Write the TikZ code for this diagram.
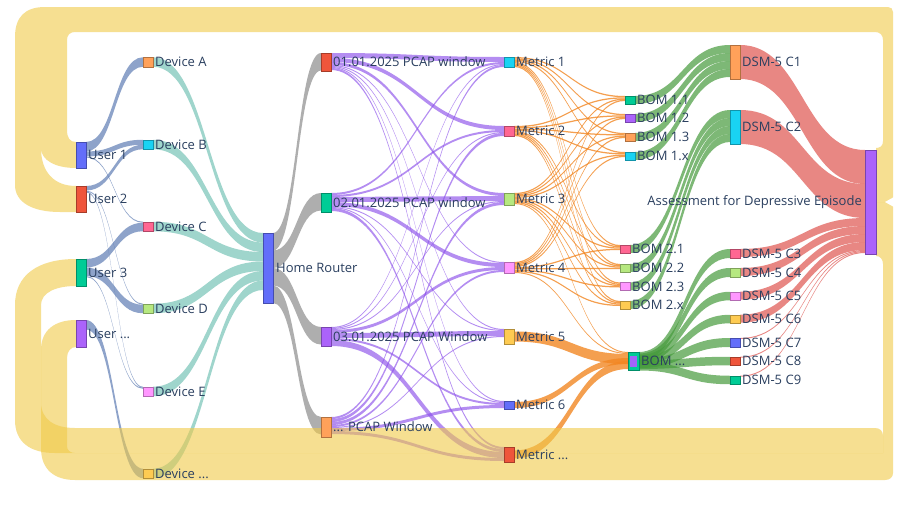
\documentclass[tikz,border=0pt]{standalone}
\usepackage{fontspec}
\setmainfont{Open Sans}
\usepackage{xcolor}
\usetikzlibrary{positioning,calc}

\definecolor{pa}{HTML}{636EFA}
\definecolor{pb}{HTML}{EF553B}
\definecolor{pc}{HTML}{00CC96}
\definecolor{pd}{HTML}{AB63FA}
\definecolor{pe}{HTML}{FFA15A}
\definecolor{pf}{HTML}{19D3F3}
\definecolor{pg}{HTML}{FF6692}
\definecolor{ph}{HTML}{B6E880}
\definecolor{pi}{HTML}{FF97FF}
\definecolor{pj}{HTML}{FECB52}
\definecolor{txt}{HTML}{2A3F5F}
\definecolor{ulk}{RGB}{95,125,180}
\definecolor{dlk}{RGB}{95,185,170}
\definecolor{rlk}{RGB}{120,120,120}
\definecolor{wlk}{RGB}{140,80,235}
\definecolor{mlk}{RGB}{242,135,35}
\definecolor{blk}{RGB}{70,155,60}
\definecolor{clk}{RGB}{225,95,90}
\definecolor{yel}{RGB}{240,202,73}

\pgfdeclarelayer{bg}
\pgfsetlayers{bg,main}

\tikzset{
  nd/.style={draw=#1!70!black, fill=#1, line width=0.4pt, minimum width=10pt, inner sep=0pt, outer sep=0pt},
  lbl/.style={font=\fontsize{13}{15}\selectfont, text=txt, inner sep=0pt},
  ulink/.style={fill=ulk, fill opacity=.7},
  dlink/.style={fill=dlk, fill opacity=.6},
  rlink/.style={fill=rlk, fill opacity=.6},
  wlink/.style={fill=wlk, fill opacity=.65},
  mlink/.style={fill=mlk, fill opacity=.8},
  blink/.style={fill=blk, fill opacity=.7},
  clink/.style={fill=clk, fill opacity=.75},
  loop/.style={fill=yel, fill opacity=.6}
}

% band from src (offset below its top) to tgt (offset below its top)
\newcommand{\band}[6]{%
  \fill[#1] let \p1=(#2.north east), \p2=(#4.north west), \n1={(\x2-\x1)/2} in
    (\x1,{\y1-(#3)*1pt}) .. controls +(\n1,0pt) and +(-\n1,0pt) .. (\x2,{\y2-(#5)*1pt})
    -- (\x2,{\y2-(#5+#6)*1pt}) .. controls +(-\n1,0pt) and +(\n1,0pt) .. (\x1,{\y1-(#3+#6)*1pt}) -- cycle;
}
% stacked band
\newcommand{\flow}[4]{%
  \ifcsname fs@#2\endcsname\else\expandafter\gdef\csname fs@#2\endcsname{0}\fi
  \ifcsname ft@#3\endcsname\else\expandafter\gdef\csname ft@#3\endcsname{0}\fi
  \edef\flowa{\csname fs@#2\endcsname}%
  \edef\flowb{\csname ft@#3\endcsname}%
  \band{#1}{#2}{\flowa}{#3}{\flowb}{#4}%
  \pgfmathsetmacro\flownew{\flowa+#4}\expandafter\xdef\csname fs@#2\endcsname{\flownew}%
  \pgfmathsetmacro\flownew{\flowb+#4}\expandafter\xdef\csname ft@#3\endcsname{\flownew}%
}

\begin{document}
\begin{tikzpicture}[x=1pt,y=-1pt]
\useasboundingbox (0,0) rectangle (900,504);

\node[nd=pa, minimum height=26pt] (u1) at (81,155) {};
\node[nd=pb, minimum height=26pt] (u2) at (81,199) {};
\node[nd=pc, minimum height=27pt] (u3) at (81,272.5) {};
\node[nd=pd, minimum height=27pt] (u4) at (81,333.5) {};
\node[lbl, right=2pt of u1] (u1l) {User 1};
\node[lbl, right=2pt of u2] (u2l) {User 2};
\node[lbl, right=2pt of u3] (u3l) {User 3};
\node[lbl, right=2pt of u4] (u4l) {User ...};

\node[nd=pe, minimum height=9.5pt] (dA) at (148,62) {};
\node[nd=pf, minimum height=9.5pt] (dB) at (148,144.5) {};
\node[nd=pg, minimum height=9.5pt] (dC) at (148,226.5) {};
\node[nd=ph, minimum height=9.5pt] (dD) at (148,308.5) {};
\node[nd=pi, minimum height=9.5pt] (dE) at (148,391.5) {};
\node[nd=pj, minimum height=9.5pt] (dX) at (148,473.5) {};
\node[lbl, right=2pt of dA] (dAl) {Device A};
\node[lbl, right=2pt of dB] (dBl) {Device B};
\node[lbl, right=2pt of dC] (dCl) {Device C};
\node[lbl, right=2pt of dD] (dDl) {Device D};
\node[lbl, right=2pt of dE] (dEl) {Device E};
\node[lbl, right=2pt of dX] (dXl) {Device ...};

\node[nd=pa, minimum height=70pt] (hr) at (268,268) {};
\node[lbl, right=3pt of hr] (hrl) {Home Router};

\node[nd=pb, minimum height=18pt] (w1) at (326,62) {};
\node[nd=pc, minimum height=19pt] (w2) at (326,202.5) {};
\node[nd=pd, minimum height=19pt] (w3) at (326,336.5) {};
\node[nd=pe, minimum height=20pt] (w4) at (326,427) {};
\node[lbl, right=2pt of w1] (w1l) {01.01.2025 PCAP window};
\node[lbl, right=2pt of w2] (w2l) {02.01.2025 PCAP window};
\node[lbl, right=2pt of w3] (w3l) {03.01.2025 PCAP Window};
\node[lbl, right=2pt of w4] (w4l) {... PCAP Window};

\node[nd=pf, minimum height=10pt] (m1) at (509,62) {};
\node[nd=pg, minimum height=10pt] (m2) at (509,131) {};
\node[nd=ph, minimum height=12pt] (m3) at (509,199) {};
\node[nd=pi, minimum height=11pt] (m4) at (509,267.5) {};
\node[nd=pj, minimum height=15pt] (m5) at (509,336.5) {};
\node[nd=pa, minimum height=8pt] (m6) at (509,405) {};
\node[nd=pb, minimum height=15pt] (m7) at (509,454.5) {};
\node[lbl, right=2pt of m1] (m1l) {Metric 1};
\node[lbl, right=2pt of m2] (m2l) {Metric 2};
\node[lbl, right=2pt of m3] (m3l) {Metric 3};
\node[lbl, right=2pt of m4] (m4l) {Metric 4};
\node[lbl, right=2pt of m5] (m5l) {Metric 5};
\node[lbl, right=2pt of m6] (m6l) {Metric 6};
\node[lbl, right=2pt of m7] (m7l) {Metric ...};

\node[nd=pc, minimum height=8pt] (b11) at (630,100) {};
\node[nd=pd, minimum height=8pt] (b12) at (630,118) {};
\node[nd=pe, minimum height=8pt] (b13) at (630,137) {};
\node[nd=pf, minimum height=8pt] (b1x) at (630,156) {};
\node[nd=pg, minimum height=8pt] (b21) at (625,249) {};
\node[nd=ph, minimum height=8pt] (b22) at (625,268) {};
\node[nd=pi, minimum height=8pt] (b23) at (625,286.5) {};
\node[nd=pj, minimum height=8pt] (b2x) at (625,305) {};
\node[nd=pc, minimum height=18pt, minimum width=11pt] (bX) at (633.5,361) {};
\node[fill=pd!85!pa, inner sep=0pt, minimum width=7pt, minimum height=11pt] (bXin) at (bX) {};
\node[lbl, right=2pt of b11] (b11l) {BOM 1.1};
\node[lbl, right=2pt of b12] (b12l) {BOM 1.2};
\node[lbl, right=2pt of b13] (b13l) {BOM 1.3};
\node[lbl, right=2pt of b1x] (b1xl) {BOM 1.x};
\node[lbl, right=2pt of b21] (b21l) {BOM 2.1};
\node[lbl, right=2pt of b22] (b22l) {BOM 2.2};
\node[lbl, right=2pt of b23] (b23l) {BOM 2.3};
\node[lbl, right=2pt of b2x] (b2xl) {BOM 2.x};
\node[lbl, right=2pt of bX] (bXl) {BOM ...};

\node[nd=pe, minimum height=34pt] (c1) at (735,62) {};
\node[nd=pf, minimum height=34pt] (c2) at (735,127) {};
\node[nd=pg, minimum height=9pt] (c3) at (735,253.5) {};
\node[nd=ph, minimum height=9pt] (c4) at (735,272.5) {};
\node[nd=pi, minimum height=8.5pt] (c5) at (735,296) {};
\node[nd=pj, minimum height=8.5pt] (c6) at (735,319) {};
\node[nd=pa, minimum height=9pt] (c7) at (735,342.5) {};
\node[nd=pb, minimum height=8.5pt] (c8) at (735,361) {};
\node[nd=pc, minimum height=8.5pt] (c9) at (735,380) {};
\node[lbl, right=2pt of c1] (c1l) {DSM-5 C1};
\node[lbl, right=2pt of c2] (c2l) {DSM-5 C2};
\node[lbl, right=2pt of c3] (c3l) {DSM-5 C3};
\node[lbl, right=2pt of c4] (c4l) {DSM-5 C4};
\node[lbl, right=2pt of c5] (c5l) {DSM-5 C5};
\node[lbl, right=2pt of c6] (c6l) {DSM-5 C6};
\node[lbl, right=2pt of c7] (c7l) {DSM-5 C7};
\node[lbl, right=2pt of c8] (c8l) {DSM-5 C8};
\node[lbl, right=2pt of c9] (c9l) {DSM-5 C9};

\node[nd=pd, minimum height=104pt, minimum width=11pt] (as) at (870.5,202) {};
\node[lbl, left=3pt of as] (asl) {Assessment for Depressive Episode};

\begin{pgfonlayer}{bg}
\fill[white] (0,0) rectangle (900,504);

\flow{ulink}{u1}{dA}{9.5}
\flow{ulink}{u1}{dB}{5}
\flow{ulink}{u1}{dC}{1}
\flow{ulink}{u2}{dB}{4.5}
\flow{ulink}{u2}{dD}{1}
\flow{ulink}{u2}{dE}{1}
\flow{ulink}{u3}{dC}{8.5}
\flow{ulink}{u3}{dD}{8.5}
\flow{ulink}{u3}{dE}{1}
\flow{ulink}{u4}{dX}{9.5}

\flow{dlink}{dA}{hr}{9.5}
\flow{dlink}{dB}{hr}{9.5}
\flow{dlink}{dC}{hr}{9.5}
\flow{dlink}{dD}{hr}{9.5}
\flow{dlink}{dE}{hr}{9.5}
\flow{dlink}{dX}{hr}{9.5}

\flow{rlink}{hr}{w1}{17.5}
\flow{rlink}{hr}{w2}{17.5}
\flow{rlink}{hr}{w3}{17.5}
\flow{rlink}{hr}{w4}{17.5}

\flow{wlink}{w1}{m1}{5}
\flow{wlink}{w1}{m2}{4}
\flow{wlink}{w1}{m3}{3}
\flow{wlink}{w1}{m4}{1}
\flow{wlink}{w1}{m5}{1}
\flow{wlink}{w1}{m6}{1}
\flow{wlink}{w1}{m7}{2}
\flow{wlink}{w2}{m1}{2}
\flow{wlink}{w2}{m2}{2}
\flow{wlink}{w2}{m3}{5}
\flow{wlink}{w2}{m4}{4}
\flow{wlink}{w2}{m5}{1}
\flow{wlink}{w2}{m6}{1}
\flow{wlink}{w2}{m7}{3}
\flow{wlink}{w3}{m1}{1}
\flow{wlink}{w3}{m2}{1}
\flow{wlink}{w3}{m3}{1}
\flow{wlink}{w3}{m4}{3}
\flow{wlink}{w3}{m5}{5}
\flow{wlink}{w3}{m6}{2}
\flow{wlink}{w3}{m7}{6}
\flow{wlink}{w4}{m1}{2}
\flow{wlink}{w4}{m2}{3}
\flow{wlink}{w4}{m3}{3}
\flow{wlink}{w4}{m4}{2}
\flow{wlink}{w4}{m5}{1}
\flow{wlink}{w4}{m6}{3}
\flow{wlink}{w4}{m7}{3}

\flow{mlink}{m1}{b11}{1.25} \flow{mlink}{m1}{b12}{1.25} \flow{mlink}{m1}{b13}{1.25} \flow{mlink}{m1}{b1x}{1.25}
\flow{mlink}{m1}{b21}{1.25} \flow{mlink}{m1}{b22}{1.25} \flow{mlink}{m1}{b23}{1.25} \flow{mlink}{m1}{b2x}{1.25}
\flow{mlink}{m2}{b11}{1.25} \flow{mlink}{m2}{b12}{1.25} \flow{mlink}{m2}{b13}{1.25} \flow{mlink}{m2}{b1x}{1.25}
\flow{mlink}{m2}{b21}{1.25} \flow{mlink}{m2}{b22}{1.25} \flow{mlink}{m2}{b23}{1.25} \flow{mlink}{m2}{b2x}{1.25}
\flow{mlink}{m3}{b11}{1.25} \flow{mlink}{m3}{b12}{1.25} \flow{mlink}{m3}{b13}{1.25} \flow{mlink}{m3}{b1x}{1.25}
\flow{mlink}{m3}{b21}{1.25} \flow{mlink}{m3}{b22}{1.25} \flow{mlink}{m3}{b23}{1.25} \flow{mlink}{m3}{b2x}{1.25}
\flow{mlink}{m4}{b11}{1.25} \flow{mlink}{m4}{b12}{1.25} \flow{mlink}{m4}{b13}{1.25} \flow{mlink}{m4}{b1x}{1.25}
\flow{mlink}{m4}{b21}{1.25} \flow{mlink}{m4}{b22}{1.25} \flow{mlink}{m4}{b23}{1.25} \flow{mlink}{m4}{b2x}{1.25}
\flow{mlink}{m3}{bX}{1}
\flow{mlink}{m4}{bX}{1}
\band{mlink}{m5}{2.5}{bX}{2}{10}
\band{mlink}{m6}{1}{bX}{6}{6}
\band{mlink}{m7}{3.5}{bX}{9}{8}

\flow{blink}{b11}{c1}{8}
\flow{blink}{b12}{c1}{8}
\flow{blink}{b13}{c1}{8}
\flow{blink}{b1x}{c1}{8}
\flow{blink}{b21}{c2}{8}
\flow{blink}{b22}{c2}{8}
\flow{blink}{b23}{c2}{8}
\flow{blink}{b2x}{c2}{8}
\band{blink}{bX}{0}{c3}{0}{9}
\band{blink}{bX}{1.5}{c4}{0}{9}
\band{blink}{bX}{3}{c5}{0}{8.5}
\band{blink}{bX}{5}{c6}{0}{8.5}
\band{blink}{bX}{7}{c7}{0}{9}
\band{blink}{bX}{8.5}{c8}{0}{8.5}
\band{blink}{bX}{10}{c9}{0}{8.5}

\flow{clink}{c1}{as}{34}
\flow{clink}{c2}{as}{34}
\flow{clink}{c3}{as}{8}
\flow{clink}{c4}{as}{8}
\flow{clink}{c5}{as}{8}
\flow{clink}{c6}{as}{8}
\flow{clink}{c7}{as}{1}
\flow{clink}{c8}{as}{1}
\flow{clink}{c9}{as}{1}

\fill[loop] (876,202) -- (893,202) -- (893,12) .. controls (893,9) and (891,7) .. (888,7)
  -- (45,7) .. controls (25,7) and (15,17) .. (15,37) -- (15,185)
  .. controls (15,202) and (32,212) .. (60,212) -- (76,212) -- (76,186)
  .. controls (54,186) and (41,172) .. (41,148) .. controls (41,160) and (55,168) .. (76,168)
  -- (76,142) .. controls (70,142) and (67,138) .. (67,130) -- (67,40)
  .. controls (67,35) and (70,32) .. (75,32) -- (875,32) .. controls (880,32) and (883,35) .. (883,40)
  -- (883,141) .. controls (883,146) and (880,148) .. (876,148) -- cycle;
\fill[loop] (876,202) -- (893,202) -- (893,473) .. controls (893,477) and (890,480) .. (885,480)
  -- (75,480) .. controls (55,480) and (41,470) .. (41,448) -- (41,350)
  .. controls (41,330) and (55,320) .. (76,320) -- (76,347) .. controls (71,347) and (67,351) .. (67,358)
  -- (67,446) .. controls (67,450) and (70,453) .. (75,453) -- (883,453)
  -- (883,264) .. controls (883,259) and (880,256) .. (876,256) -- cycle;
\fill[loop] (76,259) .. controls (38,259) and (15,275) .. (15,305) -- (15,420)
  .. controls (15,442) and (30,453) .. (55,453) -- (883,453) -- (883,436)
  .. controls (883,431) and (880,428) .. (875,428) -- (75,428)
  .. controls (55,428) and (41,420) .. (41,402) -- (41,305)
  .. controls (41,293) and (55,286) .. (76,286) -- cycle;
\fill[white] (894,197) -- (885,202) -- (894,207) -- cycle;
\end{pgfonlayer}
\end{tikzpicture}
\end{document}
